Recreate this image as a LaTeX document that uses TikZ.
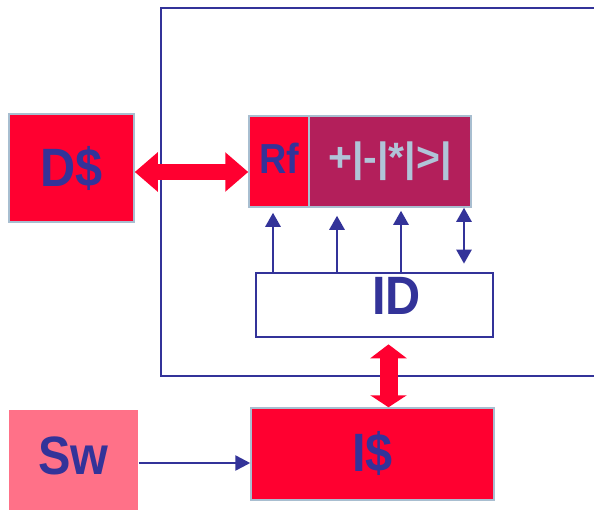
\documentclass[tikz,border=0pt]{standalone}
\usepackage{fontspec}
\setmainfont{Liberation Sans}
\usetikzlibrary{arrows.meta}
\definecolor{cred}{HTML}{FF0030}
\definecolor{cmag}{HTML}{B31F5B}
\definecolor{cpink}{HTML}{FF7188}
\definecolor{cedge}{HTML}{A8BED0}
\definecolor{cblue}{HTML}{333399}
\definecolor{cgrey}{HTML}{B0C4D8}
\newcommand{\narrowtext}[1]{\scalebox{0.9}[1]{#1}}
\begin{document}
\begin{tikzpicture}[x=1pt,y=-1pt,
  box/.style={draw=cedge, line width=1.5pt, inner sep=0pt, text=cblue,
    font=\bfseries\fontsize{54}{58}\selectfont},
  redarrow/.style={draw=cred, line width=16pt},
  smallarrow/.style={draw=cblue, line width=2.6pt},
  frame/.style={draw=cblue, line width=2.7pt}
]
\clip (0,0) rectangle (594,509);
\fill[white] (0,0) rectangle (594,509);
% outer frame
\draw[frame] (600,8) -- (161,8) -- (161,376) -- (600,376);
% nodes
\node[box, fill=cred, minimum width=125pt, minimum height=108pt] (D) at (71.5,168) {\narrowtext{D\$}};
\node[box, fill=cred, minimum width=60pt, minimum height=91pt,
  font=\bfseries\fontsize{42}{46}\selectfont] (Rf) at (279,161.5) {\raisebox{7pt}{\narrowtext{Rf}}};
\node[box, fill=cmag, text=cgrey, minimum width=162pt, minimum height=91pt,
  font=\bfseries\fontsize{41}{45}\selectfont] (ALU) at (390,161.5) {+|-|*|>|};
\node[box, draw=cblue, line width=2.7pt, fill=white, minimum width=237pt, minimum height=64pt] (ID) at (374.5,305)
  {\hspace*{44pt}\raisebox{18pt}{\narrowtext{ID}}};
\node[box, fill=cred, minimum width=243pt, minimum height=92pt] (IC) at (372.5,454) {\raisebox{5pt}{\narrowtext{I\$}}};
\node[box, draw=none, fill=cpink, minimum width=129pt, minimum height=102pt] (Sw) at (73.5,461) {\raisebox{10pt}{\narrowtext{Sw}}};
% red double arrows
\draw[redarrow, {Triangle[length=23pt,width=38pt]}-{Triangle[length=23pt,width=38pt]}]
  ([yshift=-4pt]D.east) -- ([yshift=-4pt]D.east -| Rf.west);
\draw[redarrow, line width=18pt, {Triangle[length=14pt,width=36pt]}-{Triangle[length=12pt,width=36pt]},
  shorten <=6pt]
  ([xshift=14pt]ID.south) -- ([xshift=14pt]ID.south |- IC.north);
% small arrows from ID
\draw[smallarrow, -{Triangle[length=14pt,width=15pt]}, shorten >=5pt]
  ([xshift=-6pt]Rf.south |- ID.north) -- ([xshift=-6pt]Rf.south);
\draw[smallarrow, -{Triangle[length=14pt,width=15pt]}, shorten >=8pt]
  ([xshift=-53pt]ALU.south |- ID.north) -- ([xshift=-53pt]ALU.south);
\draw[smallarrow, -{Triangle[length=14pt,width=15pt]}, shorten >=3pt]
  ([xshift=11pt]ALU.south |- ID.north) -- ([xshift=11pt]ALU.south);
\draw[smallarrow, {Triangle[length=14pt,width=15pt]}-{Triangle[length=14pt,width=15pt]}, shorten <=8pt]
  ([xshift=74pt]ALU.south |- ID.north) -- ([xshift=74pt]ALU.south);
% Sw to I$
\draw[smallarrow, -{Triangle[length=15pt,width=15pt]}]
  ([yshift=-2pt]Sw.east) -- ([yshift=-2pt]Sw.east -| IC.west);
\end{tikzpicture}
\end{document}
